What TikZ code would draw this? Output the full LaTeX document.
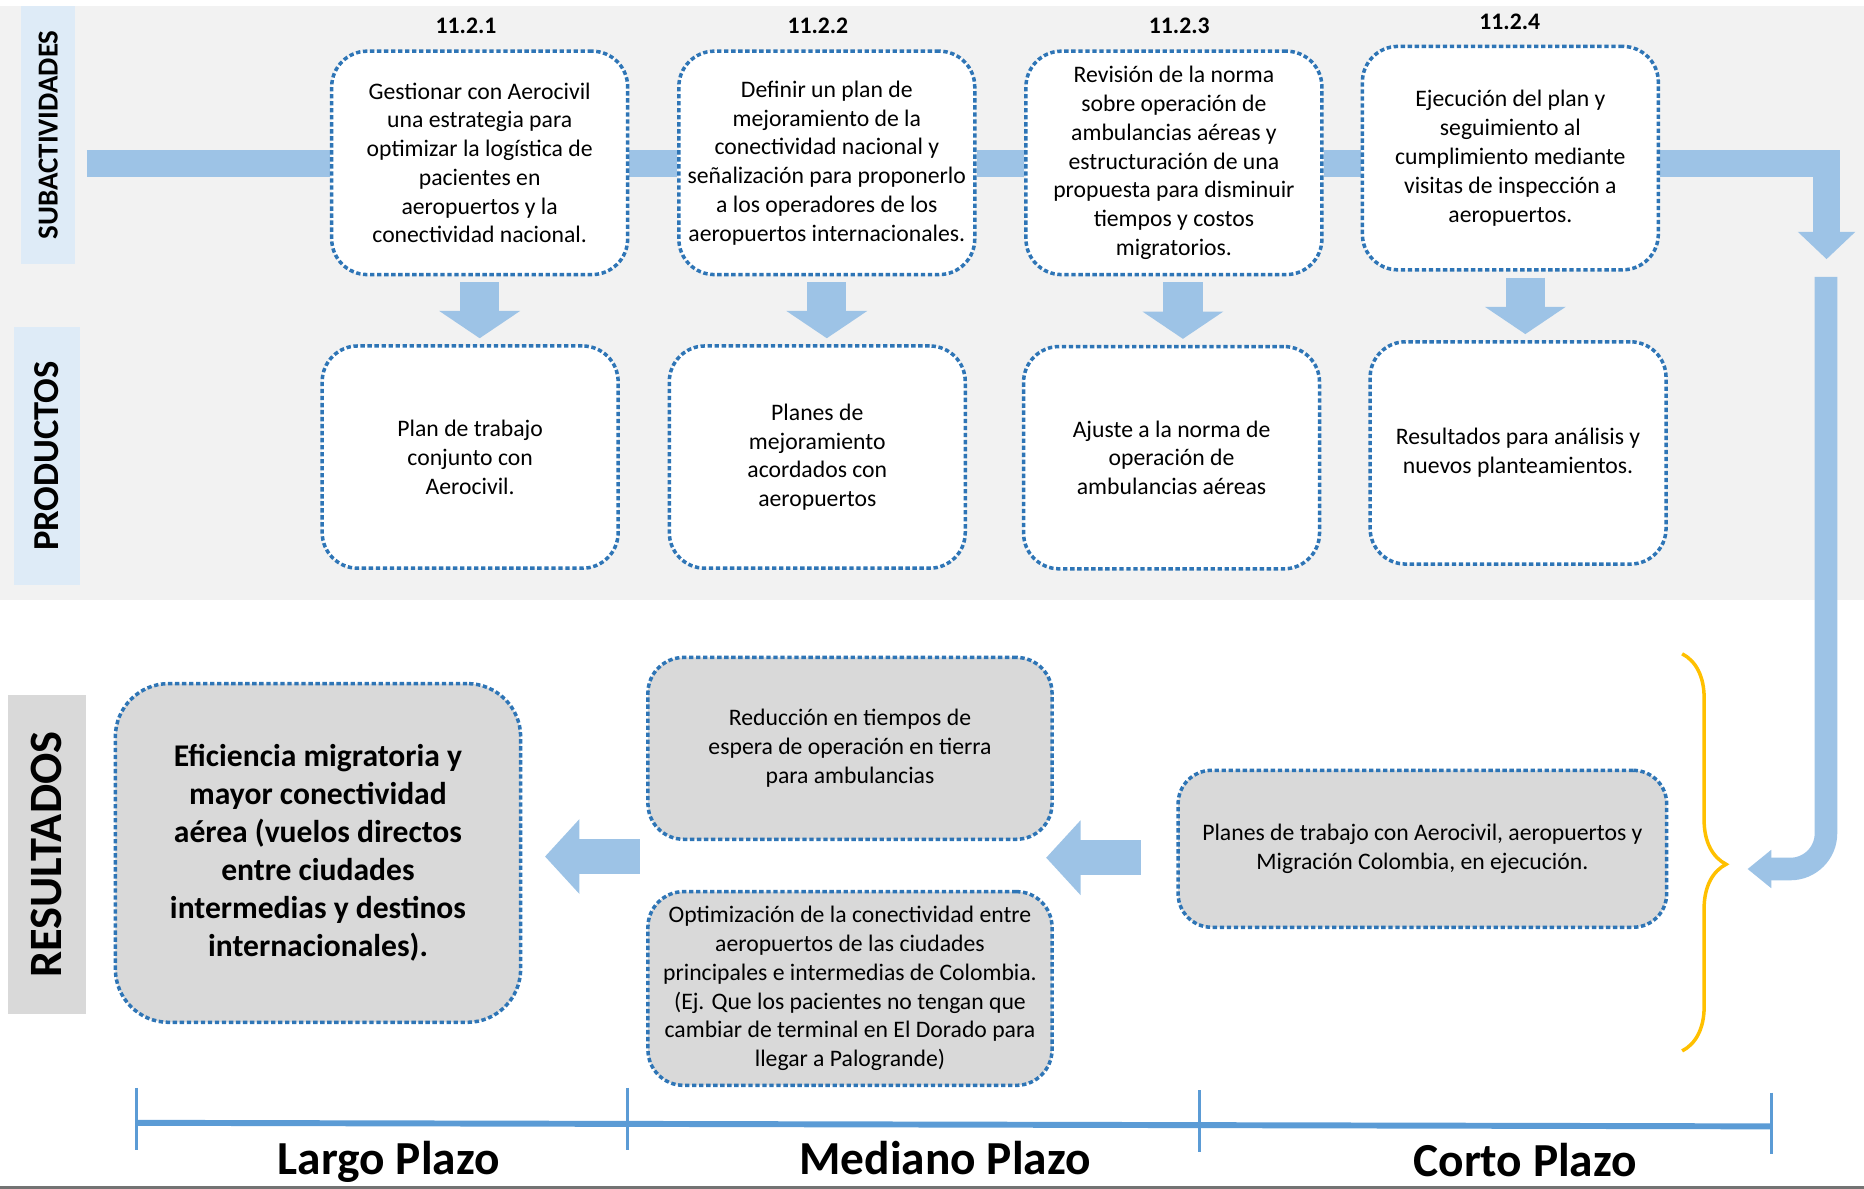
\documentclass[tikz,border=0pt]{standalone}
\usepackage{fontspec}
\setmainfont{Carlito}
\usetikzlibrary{arrows.meta,decorations.pathreplacing,backgrounds}

\definecolor{dotblue}{HTML}{2E75B6}
\definecolor{barblue}{HTML}{9DC3E6}
\definecolor{tagblue}{HTML}{DEEBF7}
\definecolor{resgray}{HTML}{D9D9D9}
\definecolor{bandgray}{HTML}{F2F2F2}
\definecolor{lineblue}{HTML}{5B9BD5}
\definecolor{bracegold}{HTML}{FFC000}

\begin{document}
\begin{tikzpicture}[x=0.0238cm, y=-0.0238cm]
  \tikzset{
    dotbox/.style={draw=dotblue, line width=2pt, dash pattern=on 2.5pt off 1.5pt,
      rounded corners=0.714cm, align=center, inner sep=2pt,
      font=\fontsize{13.5}{16.4}\selectfont},
    subbox/.style={dotbox, fill=white, minimum width=5.926cm, minimum height=4.474cm},
    prodbox/.style={dotbox, fill=white, minimum width=5.926cm, minimum height=4.451cm},
    resbox/.style={dotbox, fill=resgray},
    tagbox/.style={rotate=90, inner sep=0pt},
    numtag/.style={font=\bfseries\fontsize{13.5}{16}\selectfont},
    plazo/.style={anchor=base, font=\bfseries\fontsize{27}{32}\selectfont},
    flowbar/.style={draw=barblue, line width=0.547cm},
    downarrow/.style={draw=barblue, line width=0.785cm,
      -{Triangle[width=1.595cm, length=0.547cm]},
      shorten <=0.119cm, shorten >=0.119cm},
    backarrow/.style={draw=barblue, line width=0.71cm,
      -{Triangle[width=1.46cm, length=0.69cm]}},
    tickline/.style={draw=lineblue, line width=0.071cm},
  }
  \useasboundingbox (0,0) rectangle (1568,1000);

  % row labels
  \node[tagbox, fill=tagblue, minimum width=5.165cm, minimum height=1.071cm,
    font=\bfseries\fontsize{16.5}{18}\selectfont] (tsub) at (40.5,113.5) {SUBACTIVIDADES};
  \node[tagbox, fill=tagblue, minimum width=5.165cm, minimum height=1.309cm,
    font=\bfseries\fontsize{20.8}{24}\selectfont] (tprod) at (39.5,383.5) {PRODUCTOS};
  \node[tagbox, fill=resgray, minimum width=6.378cm, minimum height=1.547cm,
    font=\bfseries\fontsize{26.4}{30}\selectfont] (tres) at (39.5,719) {RESULTADOS};

  % subactividades
  \node[numtag] (n1) at (392,22) {11.2.1};
  \node[numtag] (n2) at (688,22) {11.2.2};
  \node[numtag] (n3) at (992,22) {11.2.3};
  \node[numtag] (n4) at (1270,18) {11.2.4};

  \node[subbox] (a1) at (403.5,137) {Gestionar con Aerocivil\\una estrategia para\\optimizar la logística de\\pacientes en\\aeropuertos y la\\conectividad nacional.};
  \node[subbox] (a2) at (695.5,137) {Definir un plan de\\mejoramiento de la\\conectividad nacional y\\señalización para proponerlo\\a los operadores de los\\aeropuertos internacionales.};
  \node[subbox] (a3) at (987.5,137) {Revisión de la norma\\sobre operación de\\ambulancias aéreas y\\estructuración de una\\propuesta para disminuir\\tiempos y costos\\migratorios.};
  \node[subbox] (a4) at (1270.5,133) {Ejecución del plan y\\seguimiento al\\cumplimiento mediante\\visitas de inspección a\\aeropuertos.};

  % productos
  \node[prodbox] (b1) at (395.5,384.5) {Plan de trabajo\\conjunto con\\Aerocivil.};
  \node[prodbox] (b2) at (687.5,384.5) {Planes de\\mejoramiento\\acordados con\\aeropuertos};
  \node[prodbox] (b3) at (985.5,385) {Ajuste a la norma de\\operación de\\ambulancias aéreas};
  \node[prodbox] (b4) at (1277,381) {Resultados para análisis y\\nuevos planteamientos.};

  % resultados
  \node[resbox, rounded corners=1.07cm, minimum width=8.116cm, minimum height=6.783cm,
    font=\bfseries\fontsize{18}{21.6}\selectfont] (big) at (267.5,717.5)
    {Eficiencia migratoria y\\mayor conectividad\\aérea (vuelos directos\\entre ciudades\\intermedias y destinos\\internacionales).};
  \node[resbox, minimum width=8.092cm, minimum height=3.641cm] (red) at (715,629.5)
    {Reducción en tiempos de\\espera de operación en tierra\\para ambulancias};
  \node[resbox, minimum width=8.092cm, minimum height=3.879cm] (opt) at (715,831.5)
    {Optimización de la conectividad entre\\aeropuertos de las ciudades\\principales e intermedias de Colombia.\\(Ej. Que los pacientes no tengan que\\cambiar de terminal en El Dorado para\\llegar a Palogrande)};
  \node[resbox, rounded corners=0.67cm, minimum width=9.782cm, minimum height=3.142cm] (planes) at (1196.5,714)
    {Planes de trabajo con Aerocivil, aeropuertos y\\Migración Colombia, en ejecución.};

  \coordinate (bar0) at (73,137.5);
  \coordinate (drop) at (1536.5,218);
  \coordinate (loopS) at (1536,233);
  \coordinate (loopE) at (1470,731);
  \coordinate (pOut) at (880,721.5);
  \coordinate (midL) at (538,720.5);

  \begin{scope}[on background layer]
    \fill[bandgray] (0,5) rectangle (1568,505);
    % main line through the subactividades
    \draw[flowbar] (bar0) -- (bar0 -| a1.west);
    \draw[flowbar] (a1.east |- bar0) -- (a2.west |- bar0);
    \draw[flowbar] (a2.east |- bar0) -- (a3.west |- bar0);
    \draw[flowbar] (a3.east |- bar0) -- (a4.west |- bar0);
    \draw[flowbar, line join=miter, -{Triangle[width=1.119cm, length=0.547cm]}]
      (a4.east |- bar0) -| (drop);
    \draw[flowbar, line width=0.452cm, rounded corners=0.714cm,
      -{Triangle[width=0.738cm, length=0.476cm]}] (loopS) |- (loopE);
    % subactividad -> producto
    \draw[downarrow] (a1.south) -- (a1.south |- b1.north);
    \draw[downarrow] (a2.south) -- (a2.south |- b2.north);
    \draw[downarrow] ([xshift=0.18cm]a3.south) -- ([xshift=0.18cm]a3.south |- b3.north);
    \draw[downarrow] ([xshift=0.3cm]a4.south) -- ([xshift=0.3cm]a4.south |- b4.north);
  \end{scope}

  % corto -> mediano -> largo
  \draw[backarrow, shorten <=0.714cm] (planes.west |- pOut) -- (pOut);
  \draw[backarrow, shorten >=0.452cm] (midL) -- (midL -| big.east);

  \draw[bracegold, line width=0.07cm, decorate,
    decoration={brace, amplitude=0.881cm, aspect=0.53}] (1415,550) -- (1415,884);

  % time axis
  \coordinate (t0) at (115,944.5);
  \coordinate (t3) at (1490,947.5);
  \draw[lineblue, line width=0.119cm] (t0) -- (t3);
  \foreach \x/\y in {115/915, 528/915, 1009/917, 1490/919}
    \draw[tickline] (\x,\y) -- ++(0,52);
  \node[plazo] (largo) at (327,988) {Largo Plazo};
  \node[plazo] (mediano) at (795,988) {Mediano Plazo};
  \node[plazo] (corto) at (1283,990) {Corto Plazo};

  \draw[black!55, line width=0.06cm] (0,998.8) -- (1568,998.8);
\end{tikzpicture}
\end{document}
